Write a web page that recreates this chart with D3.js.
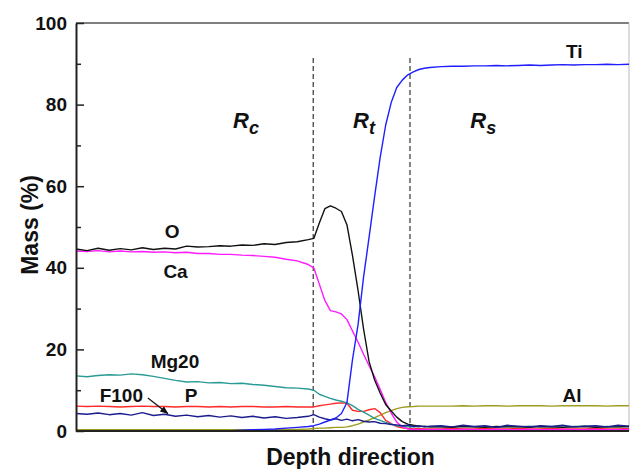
<!DOCTYPE html>
<html>
<head>
<meta charset="utf-8">
<script src="https://cdn.jsdelivr.net/npm/d3@7"></script>
<style>
    body { margin: 0; background: #fff; }
    text { font-family: "Liberation Sans", Arial, sans-serif; font-weight: bold; }
</style>
</head>
<body>
<svg width="630" height="469"></svg>
<script>
// depth positions (arbitrary units 0-100 along the depth direction)
var depth = [0,2,4,6,8,10,12,14,16,18,20,22,24,26,28,30,32,34,36,38,40,42,
    43,44,45,46,47,48,49,50,51,52,53,54,55,56,57,58,59,60,61,62,63,64,
    66,68,70,72,74,76,78,80,82,84,86,88,90,92,94,96,98,100];

var oVals = [44.6,44.2,44.8,44.3,44.7,44.4,44.9,44.5,44.8,44.6,45.3,45.1,45.2,45.4,45.3,45.6,45.5,45.9,45.7,46.2,46.4,46.9,
    47.2,51.0,54.5,55.2,54.6,53.8,50.5,43.0,34.5,25.0,17.0,12.5,9.3,6.5,4.9,3.4,2.3,1.7,1.4,1.2,1.1,1.0,
    1.0,0.9,1.1,1.0,0.9,1.1,1.0,1.0,0.9,1.1,1.0,0.9,1.0,1.1,0.9,1.0,1.0,1.1];
var caVals = [44.1,44.0,44.2,43.9,44.1,43.9,44.0,43.8,43.9,43.7,43.8,43.5,43.5,43.3,43.3,43.1,43.0,42.8,42.6,42.1,41.7,40.8,
    40.0,36.0,32.0,29.5,29.2,28.7,27.3,24.5,21.8,18.8,16.0,13.3,10.2,7.0,4.4,2.2,1.0,0.5,0.4,0.3,0.4,0.3,
    0.4,0.3,0.4,0.3,0.3,0.4,0.3,0.3,0.4,0.3,0.3,0.4,0.3,0.3,0.4,0.3,0.3,0.4];
var tiVals = [0.1,0.1,0.1,0.1,0.1,0.1,0.1,0.1,0.1,0.1,0.1,0.1,0.1,0.1,0.1,0.2,0.3,0.4,0.5,0.7,0.9,1.1,
    1.3,1.7,2.2,2.7,3.2,4.3,7.0,17.5,26.0,37.7,47.5,57.5,67.0,75.0,80.5,84.2,86.0,87.3,88.0,88.6,88.9,89.1,
    89.3,89.4,89.4,89.5,89.5,89.6,89.5,89.6,89.7,89.6,89.7,89.8,89.7,89.8,89.8,89.9,89.8,89.9];
var alVals = [0.3,0.3,0.3,0.3,0.3,0.3,0.3,0.3,0.3,0.3,0.3,0.3,0.3,0.3,0.3,0.3,0.3,0.3,0.3,0.4,0.4,0.5,
    0.6,0.7,0.7,0.8,0.9,0.9,1.0,1.3,1.7,2.2,2.7,3.3,3.9,4.5,5.0,5.5,5.8,5.95,6.0,6.1,6.1,6.1,
    6.1,6.1,6.2,6.1,6.2,6.2,6.1,6.2,6.2,6.2,6.1,6.2,6.2,6.2,6.2,6.1,6.2,6.2];
var mgVals = [13.5,13.3,13.6,13.8,13.7,14.0,13.8,13.4,12.9,12.4,12.0,12.1,11.8,11.9,11.6,11.7,11.4,11.2,10.9,10.6,10.5,10.3,
    10.0,9.0,8.5,8.0,7.6,7.3,6.9,6.2,5.3,4.6,3.9,3.1,2.6,2.1,1.7,1.3,1.1,1.0,1.1,1.0,1.2,1.0,
    1.1,1.0,1.2,1.0,1.1,0.9,1.1,1.0,1.2,1.0,1.1,1.0,1.1,1.2,1.0,1.1,1.0,1.1];
var pVals = [6.1,6.0,6.1,6.0,5.9,6.0,6.1,6.0,6.0,5.9,6.0,6.0,5.9,6.0,5.9,6.0,6.0,5.9,5.9,6.0,5.9,5.9,
    5.9,6.2,6.4,6.6,6.8,6.9,6.8,5.1,4.8,4.8,5.2,5.5,4.5,2.6,1.8,1.1,0.8,0.6,0.5,0.6,0.5,0.5,
    0.5,0.6,0.5,0.5,0.6,0.5,0.5,0.6,0.5,0.5,0.6,0.5,0.5,0.5,0.6,0.5,0.5,0.6];
var fVals = [4.3,4.1,4.4,4.0,4.3,3.9,4.5,3.8,4.1,3.6,3.9,3.5,3.8,3.4,3.7,3.3,3.6,3.2,3.5,3.1,3.3,3.6,
    4.0,3.4,3.0,2.7,3.0,2.6,2.9,2.5,2.8,2.4,2.2,2.3,1.9,1.8,1.6,1.5,1.3,1.4,1.1,1.3,1.0,1.2,
    1.3,1.0,1.4,1.1,1.3,0.9,1.4,1.2,1.0,1.3,1.1,1.4,1.0,1.2,1.3,1.0,1.4,1.2];

var series = [
    {name: "Al", values: alVals, color: "#9c9c1e"},
    {name: "P", values: pVals, color: "#ff2a2a"},
    {name: "Mg20", values: mgVals, color: "#2a9a96"},
    {name: "Ca", values: caVals, color: "#ff1aff"},
    {name: "O", values: oVals, color: "#111111"},
    {name: "F100", values: fVals, color: "#1c1c8e"},
    {name: "Ti", values: tiVals, color: "#1f1fff"}
];

// region borders (depth)
var boundaries = [42.9, 60.4];
var yTicks = [0, 20, 40, 60, 80, 100];
var yMinor = [10, 30, 50, 70, 90];

// text labels: [text, depth, value]
var labels = [
    ["Ti", 90.1, 91.4], ["Al", 89.7, 7.1], ["O", 17.4, 47.3], ["Ca", 18.0, 37.5],
    ["Mg20", 17.9, 15.4], ["F100", 8.2, 7.1], ["P", 20.8, 7.1]
];
var regions = [["R", "c", 28.4, 74.3], ["R", "t", 50.1, 74.3], ["R", "s", 71.3, 74.3]];

var svg = d3.select("svg"),
    pLeft = 76, pRight = 629, pTop = 23, pBottom = 431;

var x = d3.scaleLinear().domain([0, 100]).range([pLeft, pRight]);
var y = d3.scaleLinear().domain([0, 100]).range([pBottom, pTop]);

// frame: top dark, right light
svg.append("line").attr("x1", pLeft).attr("x2", pRight).attr("y1", pTop).attr("y2", pTop)
    .attr("stroke", "#555").attr("stroke-width", 1.5);
svg.append("line").attr("x1", pRight).attr("x2", pRight).attr("y1", pTop).attr("y2", pBottom)
    .attr("stroke", "#bbb").attr("stroke-width", 1);

// dashed region borders
svg.selectAll(".bound")
    .data(boundaries)
    .enter().append("line")
    .attr("class", "bound")
    .attr("x1", function(d) { return x(d); })
    .attr("x2", function(d) { return x(d); })
    .attr("y1", y(0))
    .attr("y2", y(91.5))
    .attr("stroke", "#444")
    .attr("stroke-width", 1.3)
    .attr("stroke-dasharray", "5,3");

var line = d3.line()
    .x(function(d, i) { return x(depth[i]); })
    .y(function(d) { return y(d); });

svg.selectAll(".curve")
    .data(series)
    .enter().append("path")
    .attr("class", "curve")
    .attr("fill", "none")
    .attr("stroke", function(d) { return d.color; })
    .attr("stroke-width", 1.4)
    .attr("stroke-linejoin", "round")
    .attr("d", function(d) { return line(d.values); });

// y axis, ticks pointing inward
var yAxis = svg.append("g")
    .attr("transform", "translate(" + pLeft + ",0)")
    .call(d3.axisLeft(y).tickValues(yTicks).tickSizeInner(-8).tickSizeOuter(0).tickPadding(9));
yAxis.select(".domain").attr("stroke", "#222").attr("stroke-width", 2);
yAxis.selectAll(".tick line").attr("stroke", "#222").attr("stroke-width", 1.5);
yAxis.selectAll("text").attr("font-size", 19).attr("fill", "#111")
    .style("font-family", "Liberation Sans, Arial, sans-serif").style("font-weight", "bold");

svg.append("g")
    .attr("transform", "translate(" + pLeft + ",0)")
    .call(d3.axisLeft(y).tickValues(yMinor).tickSizeInner(-5).tickSizeOuter(0).tickFormat(""))
    .call(function(g) { g.select(".domain").remove(); })
    .selectAll(".tick line").attr("stroke", "#222").attr("stroke-width", 1.5);

// bottom axis line
svg.append("line").attr("x1", pLeft).attr("x2", pRight).attr("y1", pBottom).attr("y2", pBottom)
    .attr("stroke", "#222").attr("stroke-width", 2);

// axis titles
svg.append("text")
    .attr("x", x(50) - 2).attr("y", 465)
    .attr("text-anchor", "middle").attr("font-size", 23).attr("fill", "#111")
    .text("Depth direction");
svg.append("text")
    .attr("transform", "translate(38," + y(50.5) + ") rotate(-90)")
    .attr("text-anchor", "middle").attr("font-size", 23).attr("fill", "#111")
    .text("Mass (%)");

// element labels
svg.selectAll(".lab")
    .data(labels)
    .enter().append("text")
    .attr("class", "lab")
    .attr("x", function(d) { return x(d[1]); })
    .attr("y", function(d) { return y(d[2]); })
    .attr("text-anchor", "middle")
    .attr("font-size", 19)
    .attr("fill", "#111")
    .text(function(d) { return d[0]; });

// arrow from F100 label to its curve
svg.append("defs").append("marker")
    .attr("id", "arr").attr("viewBox", "0 0 10 10")
    .attr("refX", 9).attr("refY", 5)
    .attr("markerWidth", 7).attr("markerHeight", 7)
    .attr("orient", "auto")
    .append("path").attr("d", "M0,1L10,5L0,9z").attr("fill", "#111");
svg.append("line")
    .attr("x1", x(13.0)).attr("y1", y(8.1))
    .attr("x2", x(16.6)).attr("y2", y(4.3))
    .attr("stroke", "#111").attr("stroke-width", 1.2)
    .attr("marker-end", "url(#arr)");

// region names R_c, R_t, R_s
var reg = svg.selectAll(".reg")
    .data(regions)
    .enter().append("text")
    .attr("class", "reg")
    .attr("x", function(d) { return x(d[2]); })
    .attr("y", function(d) { return y(d[3]); })
    .attr("font-size", 22)
    .attr("font-style", "italic")
    .attr("fill", "#111");
reg.append("tspan").text(function(d) { return d[0]; });
reg.append("tspan").attr("dy", 6).attr("font-size", 18).text(function(d) { return d[1]; });
</script>
</body>
</html>
